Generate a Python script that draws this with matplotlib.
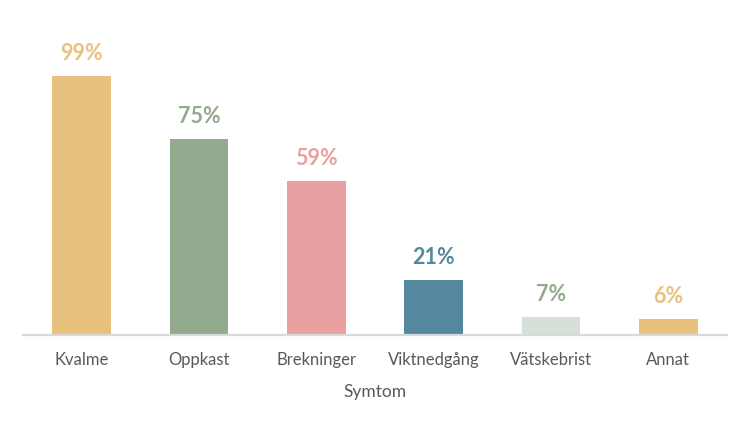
import matplotlib.pyplot as plt

# Data
symptomer = ['Kvalme', 'Oppkast', 'Brekninger', 'Viktnedgång', 'Vätskebrist', 'Annat']
andel = [99, 75, 59, 21, 7, 6]
bar_farger = ['#E9C17F', '#93AA8E', '#E8A0A0', '#55889E', '#D6E0D9', '#E9C17F']
tekst_farger = ['#E9C17F', '#93AA8E', '#E8A0A0', '#55889E', '#93AA8E', '#E9C17F']

plt.rcParams['font.family'] = ['Lato', 'DejaVu Sans']

fig = plt.figure(figsize=(7.5, 4.28), dpi=100)
ax = fig.add_axes([23 / 750, 93 / 428, 704 / 750, 288 / 428])

x = range(len(symptomer))
bars = ax.bar(x, andel, width=0.5, color=bar_farger)

# Verdietiketter over stolpene
for rect, verdi, farge in zip(bars, andel, tekst_farger):
    ax.annotate(f'{verdi}%', (rect.get_x() + rect.get_width() / 2, rect.get_height()),
                xytext=(0, 8.5), textcoords='offset points', ha='center', va='bottom',
                fontsize=15.5, fontweight='bold', color=farge)

ax.set_xlim(-0.5, len(symptomer) - 0.5)
ax.set_ylim(0, 110)
ax.set_xticks(list(x))
ax.set_xticklabels(symptomer, fontsize=12, color='#595959')
ax.tick_params(axis='x', length=0, pad=12)
ax.set_yticks([])
ax.set_xlabel('Symtom', fontsize=12.5, color='#595959', labelpad=12)

for side in ['top', 'right', 'left']:
    ax.spines[side].set_visible(False)
ax.spines['bottom'].set_color('#D9D9D9')
ax.spines['bottom'].set_linewidth(1.6)

fig.savefig('out.png', dpi=100)
